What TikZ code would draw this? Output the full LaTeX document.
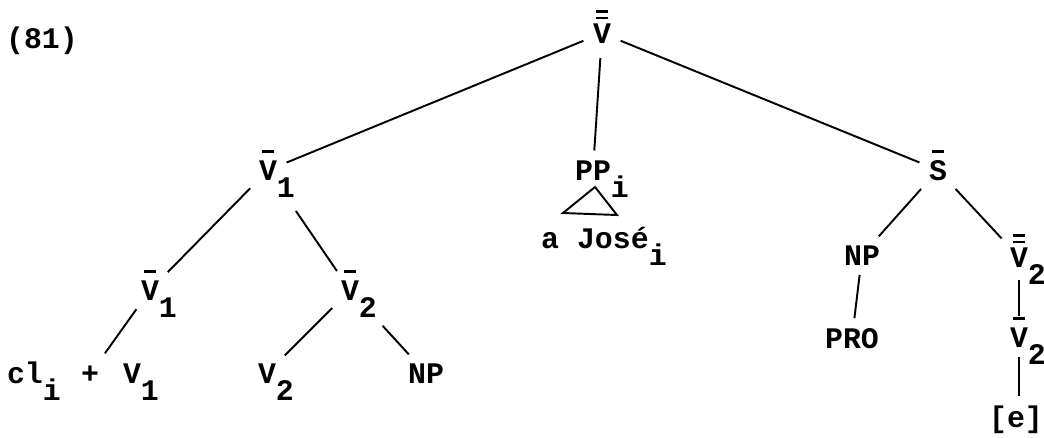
\documentclass[tikz,border=0pt]{standalone}
\usepackage{fontspec}
\setmainfont{Liberation Mono}
\usepackage{tikz}
\newcommand{\ob}[1]{\ooalign{#1\cr\hidewidth\rule[0.92em]{0.38em}{0.07em}\hidewidth\cr}}
\newcommand{\oob}[1]{\ooalign{#1\cr\hidewidth\rule[0.8em]{0.38em}{0.07em}\hidewidth\cr\hidewidth\rule[1.02em]{0.38em}{0.07em}\hidewidth\cr}}
\newcommand{\lowsub}[1]{\rlap{\smash{\raisebox{-0.6em}{#1}}}}

\begin{document}
\begin{tikzpicture}[x=0.02cm,y=-0.02cm,
    lab/.style={anchor=base,inner sep=0.12cm,
                font=\fontsize{17}{20}\selectfont\bfseries},
    branch/.style={line width=1.1pt,shorten <=2pt,shorten >=2pt}]
  \useasboundingbox (0,0) rectangle (1044,437);
  \node[lab] (num)  at (42,48)   {(81)};
  \node[lab] (top)  at (602,43)  {\oob{V}};
  % left branch
  \node[lab] (vb1)  at (268,180) {\ob{V}\lowsub{1}};
  \node[lab] (vb1l) at (150,300) {\ob{V}\lowsub{1}};
  \node[lab] (vb2)  at (350,300) {\ob{V}\lowsub{2}};
  \node[lab] (cl)   at (25,383)  {cl\lowsub{i}};
  \node[lab] (plus) at (90,383)  {+};
  \node[lab] (v1)   at (132,383) {V\lowsub{1}};
  \node[lab] (v2)   at (267,383) {V\lowsub{2}};
  \node[lab] (np1)  at (426,383) {NP};
  % middle branch
  \node[lab] (pp)   at (593,180) {PP\lowsub{i}};
  \node[lab] (jose) at (595,248) {a José\lowsub{i}};
  % right branch
  \node[lab] (sb)   at (938,180) {\ob{S}};
  \node[lab] (np2)  at (862,265) {NP};
  \node[lab] (pro)  at (852,348) {PRO};
  \node[lab] (vbb2) at (1019,267) {\oob{V}\lowsub{2}};
  \node[lab] (vb2l) at (1019,347) {\ob{V}\lowsub{2}};
  \node[lab] (e)    at (1016,427) {[e]};
  \draw[branch] (top) -- (vb1);
  \draw[branch,shorten <=5pt] (top) -- (pp);
  \draw[branch] (top) -- (sb);
  \draw[branch] (vb1) -- (vb1l);
  \draw[branch,shorten <=17pt] (vb1) -- (vb2);
  \draw[branch,shorten >=4pt] (vb1l) -- (plus);
  \draw[branch] (vb2) -- (v2);
  \draw[branch,shorten <=15pt] (vb2) -- (np1);
  \draw[branch] (sb) -- (np2);
  \draw[branch] (sb) -- (vbb2);
  \draw[branch] (np2) -- (pro);
  \draw[branch,shorten <=4pt,shorten >=3pt] (vbb2) -- (vb2l);
  \draw[branch] (vb2l) -- (vb2l |- e.north);
  \draw[line width=1.1pt] (595,187) -- (563,213) -- (617,215) -- cycle;
\end{tikzpicture}
\end{document}
